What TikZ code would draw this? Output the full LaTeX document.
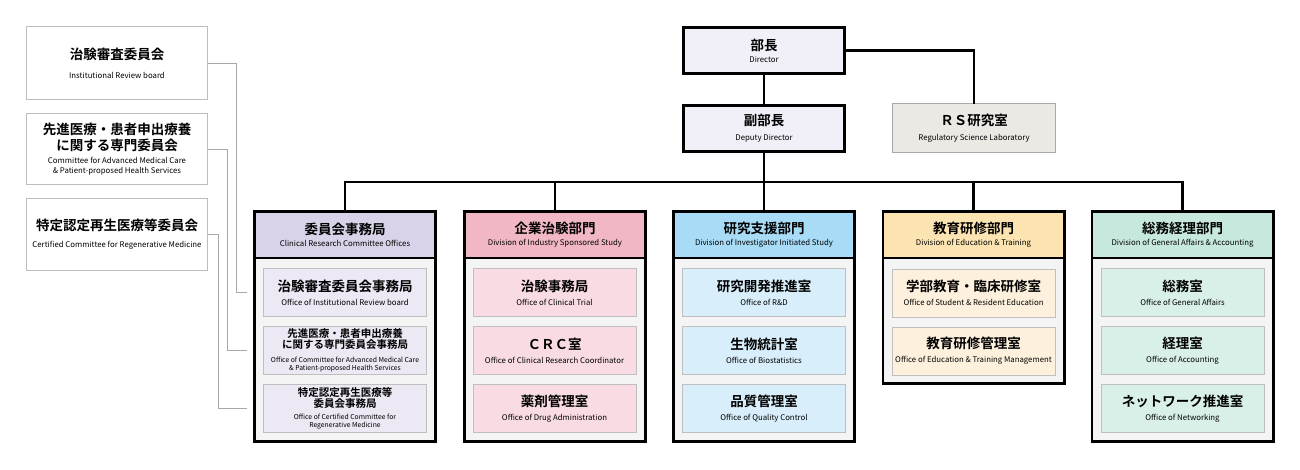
\documentclass[tikz,border=0pt]{standalone}
\usepackage{fontspec}
\setmainfont{Noto Sans CJK JP}[BoldFont={Noto Sans CJK JP Bold}]

\definecolor{dirfill}{HTML}{F1EFF7}
\definecolor{rsfill}{HTML}{ECE9E5}
\definecolor{rsline}{HTML}{A9A9A9}
\definecolor{cmline}{HTML}{BDBDBD}
\definecolor{linkgray}{HTML}{A8A8A8}
\definecolor{bodyfill}{HTML}{F4F4F4}
\definecolor{subline}{HTML}{BFBFBF}
\definecolor{hdA}{HTML}{D9D3E9}
\definecolor{sbA}{HTML}{ECE8F4}
\definecolor{hdB}{HTML}{F1B7C5}
\definecolor{sbB}{HTML}{F9DCE3}
\definecolor{hdC}{HTML}{A7DBF6}
\definecolor{sbC}{HTML}{D8EEFA}
\definecolor{hdD}{HTML}{FCE4B2}
\definecolor{sbD}{HTML}{FDF1DD}
\definecolor{hdE}{HTML}{C7E8DD}
\definecolor{sbE}{HTML}{D9F0E8}

\newcommand{\jpL}{\fontsize{13.5}{13.5}\selectfont\bfseries}
\newcommand{\jpS}{\fontsize{10.5}{10.5}\selectfont\bfseries}
\newcommand{\enL}{\fontsize{7.8}{7.8}\selectfont}
\newcommand{\enS}{\fontsize{6.8}{6.8}\selectfont}
\newcommand{\boxfont}{\fontsize{8}{10}\selectfont\lineskiplimit=-100pt\relax}

\begin{document}
\begin{tikzpicture}[x=1pt, y=-1pt,
  txt/.style={align=center, inner sep=0pt, outer sep=0pt, font=\boxfont},
  boss/.style={txt, draw, line width=2.6pt, fill=dirfill, minimum width=161.4, minimum height=46.4},
  lab/.style={txt, draw=rsline, line width=1.2pt, fill=rsfill, minimum width=162.8, minimum height=48.8},
  cmte/.style={txt, draw=cmline, line width=0.9pt, fill=white, minimum width=181.1},
  divhead/.style={txt, draw, line width=2.6pt, minimum width=181.4, minimum height=46.7},
  divbody/.style={draw, line width=2.6pt, fill=bodyfill, minimum width=181.4, outer sep=0pt},
  office/.style={txt, draw=subline, line width=0.8pt, minimum width=163.2, minimum height=48.2},
  conn/.style={line width=2.6pt},
  link/.style={draw=linkgray, line width=0.8pt}]
\useasboundingbox (0,0) rectangle (1300,469);

% committees on the left
\node[cmte, minimum height=73.1] (irb) at (117,63) {\jpL 治験審査委員会\\[9pt] \enL Institutional Review board};
\node[cmte, minimum height=71.1] (acm) at (117,149) {\jpL 先進医療・患者申出療養\\[6pt] \jpL に関する専門委員会\\[3pt] \enL Committee for Advanced Medical Care\\ \enL \& Patient-proposed Health Services};
\node[cmte, minimum height=72.1] (crm) at (117,234.5) {\jpL 特定認定再生医療等委員会\\[7pt] \enL Certified Committee for Regenerative Medicine};

% top
\node[boss] (dir) at (764,50.5) {\jpL 部長\\[2pt] \enL Director};
\node[boss] (dep) at (764,128.5) {\jpL 副部長\\[5pt] \enL Deputy Director};
\node[lab] (rs) at (974,128) {\jpL ＲＳ研究室\\[5pt] \enL Regulatory Science Laboratory};

% divisions
\node[divbody, minimum height=183.7] (bodyA) at (345,349.85) {};
\node[divhead, fill=hdA] (hdA) at (345,234.6) {\jpL 委員会事務局\\[2pt] \enL Clinical Research Committee Offices};
\node[divbody, minimum height=183.7] (bodyB) at (555,349.85) {};
\node[divhead, fill=hdB] (hdB) at (555,234.6) {\jpL 企業治験部門\\[2pt] \enL Division of Industry Sponsored Study};
\node[divbody, minimum height=183.7] (bodyC) at (764,349.85) {};
\node[divhead, fill=hdC] (hdC) at (764,234.6) {\jpL 研究支援部門\\[2pt] \enL Division of Investigator Initiated Study};
\node[divbody, minimum height=125.7] (bodyD) at (973.5,320.85) {};
\node[divhead, fill=hdD] (hdD) at (973.5,234.6) {\jpL 教育研修部門\\[2pt] \enL Division of Education \& Training};
\node[divbody, minimum height=183.7] (bodyE) at (1182.5,349.85) {};
\node[divhead, fill=hdE] (hdE) at (1182.5,234.6) {\jpL 総務経理部門\\[2pt] \enL Division of General Affairs \& Accounting};

% offices
\node[office, fill=sbA] (a1) at (345,292.5) {\jpL 治験審査委員会事務局\\[4pt] \enL Office of Institutional Review board};
\node[office, fill=sbA] (a2) at (345,350.5) {\jpS 先進医療・患者申出療養\\[1pt] \jpS に関する専門委員会事務局\\[3.5pt] \enS Office of Committee for Advanced Medical Care\\[-2pt] \enS \& Patient-proposed Health Services};
\node[office, fill=sbA] (a3) at (345,408.5) {\jpS 特定認定再生医療等\\[1pt] \jpS 委員会事務局\\[1.5pt] \enS Office of Certified Committee for\\[-2pt] \enS Regenerative Medicine};

\node[office, fill=sbB] (b1) at (554.5,292.5) {\jpL 治験事務局\\[4pt] \enL Office of Clinical Trial};
\node[office, fill=sbB] (b2) at (554.5,350.5) {\jpL ＣＲＣ室\\[4pt] \enL Office of Clinical Research Coordinator};
\node[office, fill=sbB] (b3) at (554.5,408.5) {\jpL 薬剤管理室\\[4pt] \enL Office of Drug Administration};

\node[office, fill=sbC] (c1) at (764,292.5) {\jpL 研究開発推進室\\[4pt] \enL Office of R\&D};
\node[office, fill=sbC] (c2) at (764,350.5) {\jpL 生物統計室\\[4pt] \enL Office of Biostatistics};
\node[office, fill=sbC] (c3) at (764,408.5) {\jpL 品質管理室\\[4pt] \enL Office of Quality Control};

\node[office, fill=sbD] (d1) at (973.5,293) {\jpL 学部教育・臨床研修室\\[4pt] \enL Office of Student \& Resident Education};
\node[office, fill=sbD] (d2) at (973.5,351) {\jpL 教育研修管理室\\[4pt] \enL Office of Education \& Training Management};

\node[office, fill=sbE] (e1) at (1182.5,292.5) {\jpL 総務室\\[4pt] \enL Office of General Affairs};
\node[office, fill=sbE] (e2) at (1182.5,350.5) {\jpL 経理室\\[4pt] \enL Office of Accounting};
\node[office, fill=sbE] (e3) at (1182.5,408.5) {\jpL ネットワーク推進室\\[4pt] \enL Office of Networking};

% connectors
\coordinate (bus) at (764,182);
\draw[conn] (dir) -- (dep);
\draw[conn] (dir.east) -| (rs.north);
\draw[conn] (dep) -- (hdC);
\draw[conn] (hdA.north) |- (bus) -| (hdE.north);
\draw[conn] (hdB.north) -- (hdB.north |- bus);
\draw[conn] (hdD.north) -- (hdD.north |- bus);

\coordinate (irbEnd) at (247,292.5);
\coordinate (acmEnd) at (247,350.5);
\coordinate (crmEnd) at (247,408.5);
\draw[link] (irb.east) -- ++(29,0) |- (irbEnd);
\draw[link] (acm.east) -- ++(20,0) |- (acmEnd);
\draw[link] (crm.east) -- ++(11,0) |- (crmEnd);
\end{tikzpicture}
\end{document}
